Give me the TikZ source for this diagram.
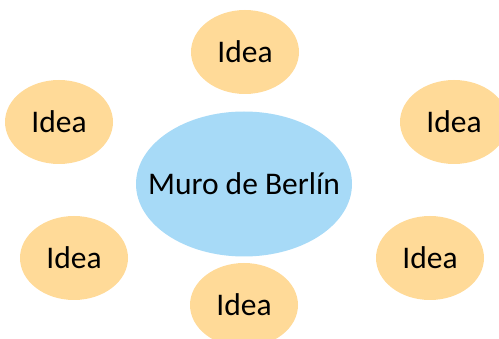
\documentclass[tikz,border=0pt]{standalone}
\usepackage{fontspec}
\setmainfont{Carlito}
\usetikzlibrary{shapes.geometric}
\definecolor{ideefarbe}{HTML}{FFDA98}
\definecolor{mittefarbe}{HTML}{A7DAF7}
\tikzset{
    schrift/.style={font=\fontsize{31.5}{36}\selectfont},
    idee/.style={ellipse, fill=ideefarbe, inner sep=0pt, minimum width=108pt, minimum height=84pt, schrift},
    mitte/.style={ellipse, fill=mittefarbe, inner sep=0pt, minimum width=216pt, minimum height=145pt}
}

\begin{document}
\begin{tikzpicture}[x=1pt, y=-1pt]
    \clip (0,0) rectangle (499,339);
    \path node[mitte] (muro) at (244,184) {}
        node[schrift, inner sep=0pt] (murotext) at (muro) {Muro de Berlín}
        node[idee] (oben) at (245,52) {Idea}
        node[idee] (ol) at (59,122) {Idea}
        node[idee] (or) at (454,122) {Idea}
        node[idee] (ul) at (74,258) {Idea}
        node[idee] (ur) at (430,258) {Idea}
        node[idee] (unten) at (244,305) {Idea};
\end{tikzpicture}
\end{document}
